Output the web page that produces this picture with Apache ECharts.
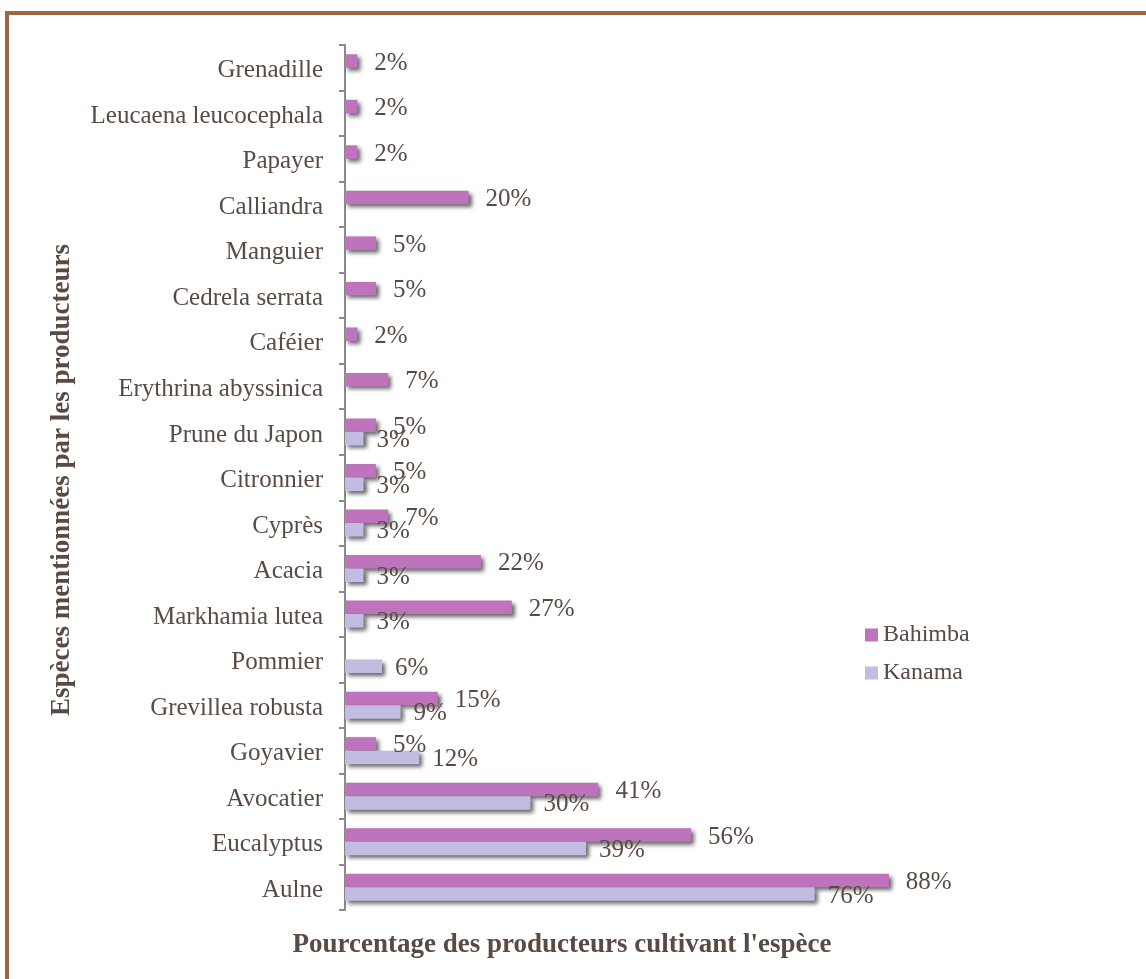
<!DOCTYPE html>
<html>
<head>
<meta charset="utf-8">
<script src="https://cdn.jsdelivr.net/npm/echarts@6/dist/echarts.min.js"></script>
<style>
html,body{margin:0;padding:0;background:#fff;}
#chart{width:1146px;height:979px;}
</style>
</head>
<body>
<div id="chart"></div>
<script>
const categories = ['Aulne','Eucalyptus','Avocatier','Goyavier','Grevillea robusta','Pommier','Markhamia lutea','Acacia','Cyprès','Citronnier','Prune du Japon','Erythrina abyssinica','Caféier','Cedrela serrata','Manguier','Calliandra','Papayer','Leucaena leucocephala','Grenadille'];
const bahimba = [88,56,41,5,15,null,27,22,7,5,5,7,2,5,5,20,2,2,2];
const kanama  = [76,39,30,12,9,6,3,3,3,3,3,null,null,null,null,null,null,null,null];
const seriesNames = ['Bahimba','Kanama'];
const xTitle = "Pourcentage des producteurs cultivant l'espèce";
const yTitle = 'Espèces mentionnées par les producteurs';

const FONT = '"Liberation Serif", serif';
const TXT = '#5A4A44';
const shadow = {shadowColor:'rgba(0,0,0,0.6)', shadowBlur:4, shadowOffsetX:3, shadowOffsetY:3};

const chart = echarts.init(document.getElementById('chart'));
chart.setOption({
  animation:false,
  backgroundColor:'#fff',
  textStyle:{fontFamily:FONT, color:TXT},
  grid:{left:345, top:45, width:618, bottom:69, containLabel:false},
  xAxis:{type:'value', min:0, max:100, show:false},
  yAxis:{type:'category', data:categories,
    axisLine:{show:true, lineStyle:{color:'#8a8a8a', width:2}},
    axisTick:{show:true, inside:false, length:6, lineStyle:{color:'#8a8a8a', width:2}},
    axisLabel:{margin:22, fontSize:25, color:TXT, fontFamily:FONT,
      formatter:function(v){return '{a|'+v+'}';},
      rich:{a:{fontSize:25, color:TXT, fontFamily:FONT, padding:[6,0,0,0]}}}},
  legend:{orient:'vertical', left:860, top:618, itemWidth:13, itemHeight:13, itemGap:14, icon:'rect',
    data:seriesNames, textStyle:{fontSize:24, color:TXT, fontFamily:FONT}},
  series:[
    {name:seriesNames[0], type:'bar', data:bahimba, barWidth:13.5, barGap:'0%',
     itemStyle:Object.assign({color:'#BD74BD'}, shadow),
     label:{show:true, position:'right', distance:17, offset:[0,2], formatter:'{c}%', fontSize:25, color:TXT, fontFamily:FONT}},
    {name:seriesNames[1], type:'bar', data:kanama, barWidth:13.5, barGap:'0%',
     itemStyle:Object.assign({color:'#C2BCE0'}, shadow),
     label:{show:true, position:'right', distance:13, offset:[0,2], formatter:'{c}%', fontSize:25, color:TXT, fontFamily:FONT}}
  ],
  graphic:[
    {type:'rect', shape:{x:7, y:13, width:1300, height:1200}, style:{fill:'none', stroke:'#A26541', lineWidth:4}, silent:true},
    {type:'text', x:562, y:945, style:{text:xTitle, fontSize:27, fontWeight:'bold', fontFamily:'Liberation Serif', fill:TXT, align:'center', verticalAlign:'middle'}},
    {type:'text', x:62, y:480, rotation:Math.PI/2, style:{text:yTitle, fontSize:27, fontWeight:'bold', fontFamily:'Liberation Serif', fill:TXT, align:'center', verticalAlign:'middle'}}
  ]
});
</script>
</body>
</html>
